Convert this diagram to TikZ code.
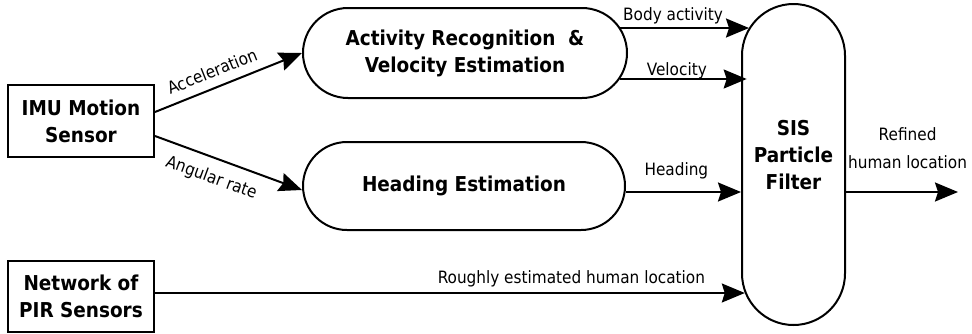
\documentclass[tikz,border=0pt]{standalone}
\usepackage{fontspec}
\setmainfont{DejaVu Sans Condensed}
\usetikzlibrary{arrows.meta}
\begin{document}
\begin{tikzpicture}[x=1pt,y=-1pt,
  line width=2pt,
  boxtext/.style={font=\fontsize{20.5}{27}\selectfont\bfseries, align=center, inner sep=0pt},
  sqbox/.style={boxtext, draw, minimum width=146pt, minimum height=72pt},
  lbl/.style={font=\fontsize{17}{28}\selectfont, inner sep=0pt},
  arr/.style={-{Stealth[length=23pt,width=19pt,inset=3pt]}}
]
\useasboundingbox (0,0) rectangle (972,333);
\node[sqbox] (imu) at (81,121) {IMU Motion\\Sensor};
\node[sqbox, minimum height=71pt] (pir) at (81,296.5) {Network of\\PIR Sensors};
\node[boxtext, draw, rounded corners=45pt, minimum width=324pt, minimum height=90pt] (act) at (465,53) {Activity Recognition\ \ \&\\Velocity Estimation};
\node[boxtext, draw, rounded corners=44pt, minimum width=322pt, minimum height=88pt] (head) at (464,186) {Heading Estimation};
\node[draw, rounded corners=51.5pt, minimum width=103pt, minimum height=321pt,
  label={[boxtext, yshift=9pt]center:{SIS\\Particle\\Filter}}] (sis) at (793.5,164.5) {};
\coordinate (out) at (958,192);

\draw[arr] ([yshift=9pt]imu.east) -- (act.west)
  node[lbl, pos=0.43, sloped, above=9pt] {Acceleration};
\draw[arr] ([yshift=-15pt]imu.east) -- ([yshift=-4pt]head.west)
  node[lbl, pos=0.43, sloped, below=11pt] {Angular rate};
\draw[arr] ([xshift=-7.6pt,yshift=25pt]act.east) -- ([xshift=8pt,yshift=136.5pt]sis.west)
  node[lbl, pos=0.41, anchor=base, yshift=8pt] {Body activity};
\draw[arr] ([xshift=-8.3pt,yshift=-26pt]act.east) -- ([xshift=5.7pt,yshift=85.5pt]sis.west)
  node[lbl, pos=0.45, anchor=base, yshift=4pt] {Velocity};
\draw[arr] ([xshift=-0.4pt,yshift=-6pt]head.east) -- ([yshift=-27.5pt]sis.west)
  node[lbl, pos=0.44, anchor=base, yshift=17pt] {Heading};
\draw[arr] ([yshift=3.5pt]pir.east) -- ([xshift=3.8pt,yshift=-128.5pt]sis.west)
  node[lbl, pos=0.706, anchor=base, yshift=10pt] {Roughly estimated human location};
\draw[arr] ([yshift=-27.5pt]sis.east) -- (out)
  node[lbl, pos=0.55, anchor=south, align=center, yshift=22pt] {Refined\\human location};
\end{tikzpicture}
\end{document}
